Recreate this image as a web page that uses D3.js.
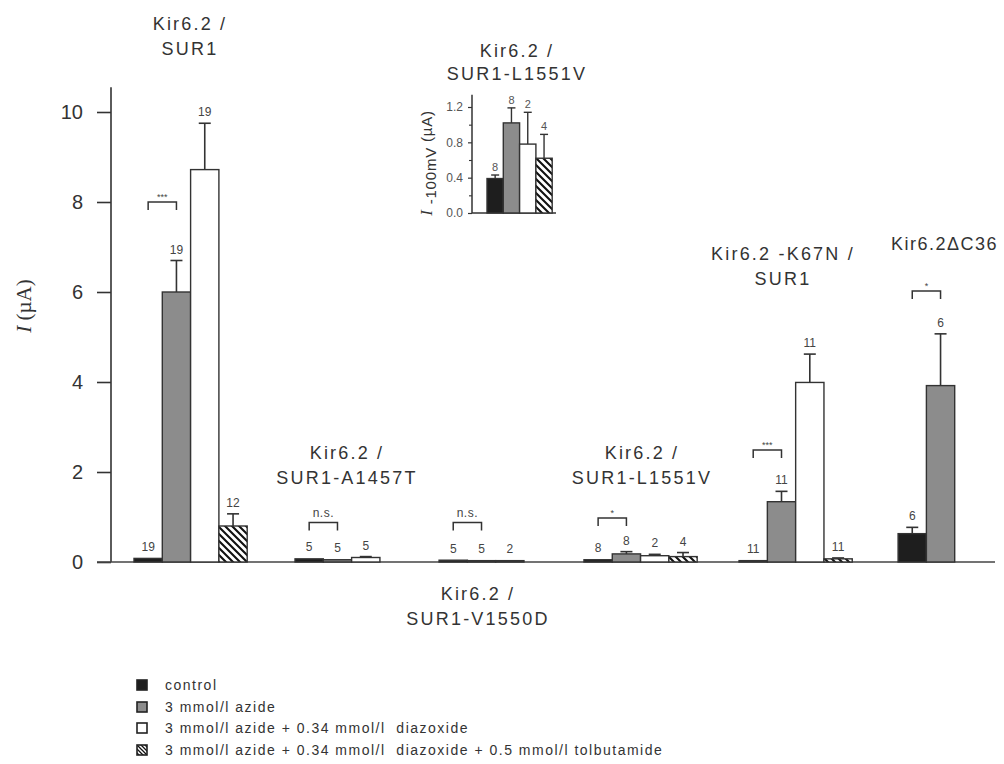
<!DOCTYPE html>
<html><head><meta charset="utf-8">
<script src="https://cdn.jsdelivr.net/npm/d3@7"></script>
<style>body{margin:0;background:#fff} svg{display:block}</style>
</head><body>
<svg id="c" width="1004" height="764"></svg>
<script>
// ---------- data ----------
const groupTitles = [["Kir6.2 /","SUR1"],["Kir6.2 /","SUR1-A1457T"],["Kir6.2 /","SUR1-V1550D"],["Kir6.2 /","SUR1-L1551V"],["Kir6.2 -K67N /","SUR1"],["Kir6.2\u0394C36"]];
const seriesNames = ["control","3 mmol/l azide","3 mmol/l azide + 0.34 mmol/l  diazoxide","3 mmol/l azide + 0.34 mmol/l  diazoxide + 0.5 mmol/l tolbutamide"];
const meanValues = [[0.08,6.0,8.72,0.8],[0.07,0.05,0.1],[0.04,0.03,0.03],[0.05,0.18,0.14,0.12],[0.03,1.34,3.99,0.07],[0.63,3.92]];
const semValues  = [[0,0.7,1.03,0.27],[0.01,0.01,0.02],[0,0,0],[0.01,0.05,0.03,0.09],[0,0.23,0.63,0.02],[0.14,1.15]];
const nValues    = [[19,19,19,12],[5,5,5],[5,5,2],[8,8,2,4],[11,11,11,11],[6,6]];
const sigLabels  = ["***","n.s.","n.s.","*","***","*"];
const sigLevels  = [8.0,0.88,0.88,0.98,2.49,6.02];
const yTicks = [0,2,4,6,8,10];
const insetTitle = ["Kir6.2 /","SUR1-L1551V"];
const insetMeans = [0.39,1.02,0.78,0.62];
const insetSem   = [0.04,0.17,0.36,0.27];
const insetN     = [8,8,2,4];
const insetTicks = [0,0.4,0.8,1.2];
const insetMinorTicks = [0.2,0.6,1.0];

// ---------- layout ----------
const groupSlot = [0,5.69,10.78,15.9,21.38,27.0];
const titleX = [190,347,478,642,783,891];
const titleY = [30,459,600,459,260,250];
const titleAnchor = ["middle","middle","middle","middle","middle","start"];
const titleSpacing = [2.2,2.2,2.2,2.2,2.2,1.5];
const fills = ["#1e1e1e","#8c8c8c","#ffffff","url(#hatch)"];
const font = "'Liberation Sans', Arial, Helvetica, sans-serif";
const txt = "#333";

const svg = d3.select("#c");
const defs = svg.append("defs");
const pat = defs.append("pattern").attr("id","hatch").attr("patternUnits","userSpaceOnUse")
  .attr("width",7).attr("height",7);
pat.append("rect").attr("width",7).attr("height",7).attr("fill","#fff");
pat.append("path").attr("d","M-1,-1 L8,8 M-4,3 L4,11 M3,-4 L11,4").attr("stroke","#111").attr("stroke-width",2.1);
const patS = defs.append("pattern").attr("id","hatchS").attr("patternUnits","userSpaceOnUse")
  .attr("width",4).attr("height",4);
patS.append("rect").attr("width",4).attr("height",4).attr("fill","#fff");
patS.append("path").attr("d","M-1,-1 L5,5 M-3,1 L1,5 M1,-3 L5,1").attr("stroke","#111").attr("stroke-width",1.3);

// main scales
const y = d3.scaleLinear().domain([0,10]).range([562,112]);
const bw = 28.3;
const x = d3.scaleLinear().domain([0,1]).range([134,134+bw]);

// y axis
const yAxis = d3.axisLeft(y).tickValues(yTicks).tickSize(14).tickPadding(14).tickFormat(d3.format("d"));
const ga = svg.append("g").attr("transform","translate(111,0)").call(yAxis);
ga.select(".domain").attr("d",`M0,${y(10.55)}V${y(0)}`).attr("stroke","#333").attr("stroke-width",1.6);
ga.selectAll(".tick line").attr("stroke","#333").attr("stroke-width",1.6);
ga.selectAll(".tick text").attr("font-family",font).attr("font-size",20).attr("fill",txt);

// baseline
svg.append("line").attr("x1",97).attr("x2",995).attr("y1",y(0)).attr("y2",y(0)).attr("stroke","#444").attr("stroke-width",1.6);

// y title
const yt = svg.append("text").attr("transform","translate(31,306) rotate(-90)")
  .attr("text-anchor","middle").attr("font-family","'Liberation Serif', 'Times New Roman', serif")
  .attr("font-size",21).attr("fill",txt);
yt.append("tspan").attr("font-style","italic").text("I");
yt.append("tspan").text(" (\u00b5A)");

// bars
meanValues.forEach((vals,g)=>{
  const gg = svg.append("g");
  const xs = i => x(groupSlot[g]+i);
  gg.selectAll("rect").data(vals).join("rect")
    .attr("x",(d,i)=>xs(i)).attr("width",bw)
    .attr("y",d=>y(d)).attr("height",d=>y(0)-y(d))
    .attr("fill",(d,i)=>fills[i]).attr("stroke","#333").attr("stroke-width",1.4);
  vals.forEach((v,i)=>{
    const se = semValues[g][i];
    const cx = xs(i)+bw/2;
    if (se>0.015){
      gg.append("line").attr("x1",cx).attr("x2",cx).attr("y1",y(v)).attr("y2",y(v+se)).attr("stroke","#333").attr("stroke-width",1.6);
      gg.append("line").attr("x1",cx-6).attr("x2",cx+6).attr("y1",y(v+se)).attr("y2",y(v+se)).attr("stroke","#333").attr("stroke-width",1.6);
    }
    gg.append("text").attr("x",cx).attr("y",Math.min(y(v+se)-7,553))
      .attr("text-anchor","middle").attr("font-family",font).attr("font-size",12).attr("fill","#444")
      .text(nValues[g][i]);
  });
  const bx1 = xs(0)+bw/2, bx2 = xs(1)+bw/2, by = y(sigLevels[g]);
  gg.append("path").attr("d",`M${bx1},${by+8}V${by}H${bx2}V${by+8}`).attr("fill","none").attr("stroke","#333").attr("stroke-width",1.5);
  const star = sigLabels[g].startsWith("*");
  gg.append("text").attr("x",(bx1+bx2)/2).attr("y",by-(star?2:5))
    .attr("text-anchor","middle").attr("font-family",font).attr("font-size",star?9:12)
    .attr("letter-spacing",star?0:0.5).attr("fill","#444").text(sigLabels[g]);
  const t = svg.append("text").attr("font-family",font).attr("font-size",18).attr("letter-spacing",titleSpacing[g])
    .attr("fill",txt).attr("text-anchor",titleAnchor[g]);
  groupTitles[g].forEach((line,k)=>{
    t.append("tspan").attr("x",titleX[g]).attr("y",titleY[g]+k*25).text(line);
  });
});

// ---------- inset ----------
const iy = d3.scaleLinear().domain([0,1.2]).range([213,107]);
const ibw = 16.3;
const ix = d3.scaleLinear().domain([0,1]).range([487,487+ibw]);
const iAxis = d3.axisLeft(iy).tickValues(insetTicks).tickSize(4).tickPadding(5).tickFormat(d3.format(".1f"));
const ia = svg.append("g").attr("transform","translate(472,0)").call(iAxis);
ia.select(".domain").attr("d",`M0,${iy(1.34)}V${iy(0)}`).attr("stroke","#333").attr("stroke-width",1.5);
ia.selectAll(".tick line").attr("stroke","#333").attr("stroke-width",1.2);
ia.selectAll(".tick text").attr("font-family",font).attr("font-size",12).attr("fill","#555");
const im = d3.axisLeft(iy).tickValues(insetMinorTicks).tickSize(3).tickFormat("");
const imm = svg.append("g").attr("transform","translate(472,0)").call(im);
imm.select(".domain").remove();
imm.selectAll(".tick line").attr("stroke","#333").attr("stroke-width",1.1);
svg.append("line").attr("x1",472).attr("x2",556).attr("y1",iy(0)).attr("y2",iy(0)).attr("stroke","#333").attr("stroke-width",1.5);
const ig = svg.append("g");
ig.selectAll("rect").data(insetMeans).join("rect")
  .attr("x",(d,i)=>ix(i)).attr("width",ibw).attr("y",d=>iy(d)).attr("height",d=>iy(0)-iy(d))
  .attr("fill",(d,i)=>fills[i]).attr("stroke","#333").attr("stroke-width",1.4);
insetMeans.forEach((v,i)=>{
  const cx = ix(i)+ibw/2, se = insetSem[i];
  ig.append("line").attr("x1",cx).attr("x2",cx).attr("y1",iy(v)).attr("y2",iy(v+se)).attr("stroke","#333").attr("stroke-width",1.4);
  ig.append("line").attr("x1",cx-4).attr("x2",cx+4).attr("y1",iy(v+se)).attr("y2",iy(v+se)).attr("stroke","#333").attr("stroke-width",1.4);
  ig.append("text").attr("x",cx).attr("y",iy(v+se)-4).attr("text-anchor","middle")
    .attr("font-family",font).attr("font-size",11).attr("fill","#555").text(insetN[i]);
});
const iyt = svg.append("text").attr("transform","translate(432,163) rotate(-90)")
  .attr("text-anchor","middle").attr("font-family",font).attr("font-size",15).attr("fill",txt).attr("letter-spacing",0.8);
iyt.append("tspan").attr("font-family","'Liberation Serif', serif").attr("font-style","italic").attr("font-size",17).text("I");
iyt.append("tspan").attr("dy",4).text(" -100mV");
iyt.append("tspan").attr("dy",-4).text(" (\u00b5A)");
const it = svg.append("text").attr("font-family",font).attr("font-size",18).attr("letter-spacing",2.2)
  .attr("fill",txt).attr("text-anchor","middle");
insetTitle.forEach((line,k)=>it.append("tspan").attr("x",517).attr("y",57+k*23).text(line));

// ---------- legend ----------
const legY = [685,707,728,750];
const legFills = ["#1e1e1e","#8c8c8c","#ffffff","url(#hatchS)"];
const lg = svg.append("g");
seriesNames.forEach((s,i)=>{
  lg.append("rect").attr("x",137).attr("y",legY[i]-5).attr("width",10).attr("height",10)
    .attr("fill",legFills[i]).attr("stroke","#222").attr("stroke-width",1.6);
  lg.append("text").attr("x",165).attr("y",legY[i]).attr("dy","0.35em").attr("font-family",font)
    .attr("font-size",14).attr("letter-spacing",1.5).attr("fill",txt).style("white-space","pre").text(s);
});
</script>
</body></html>
